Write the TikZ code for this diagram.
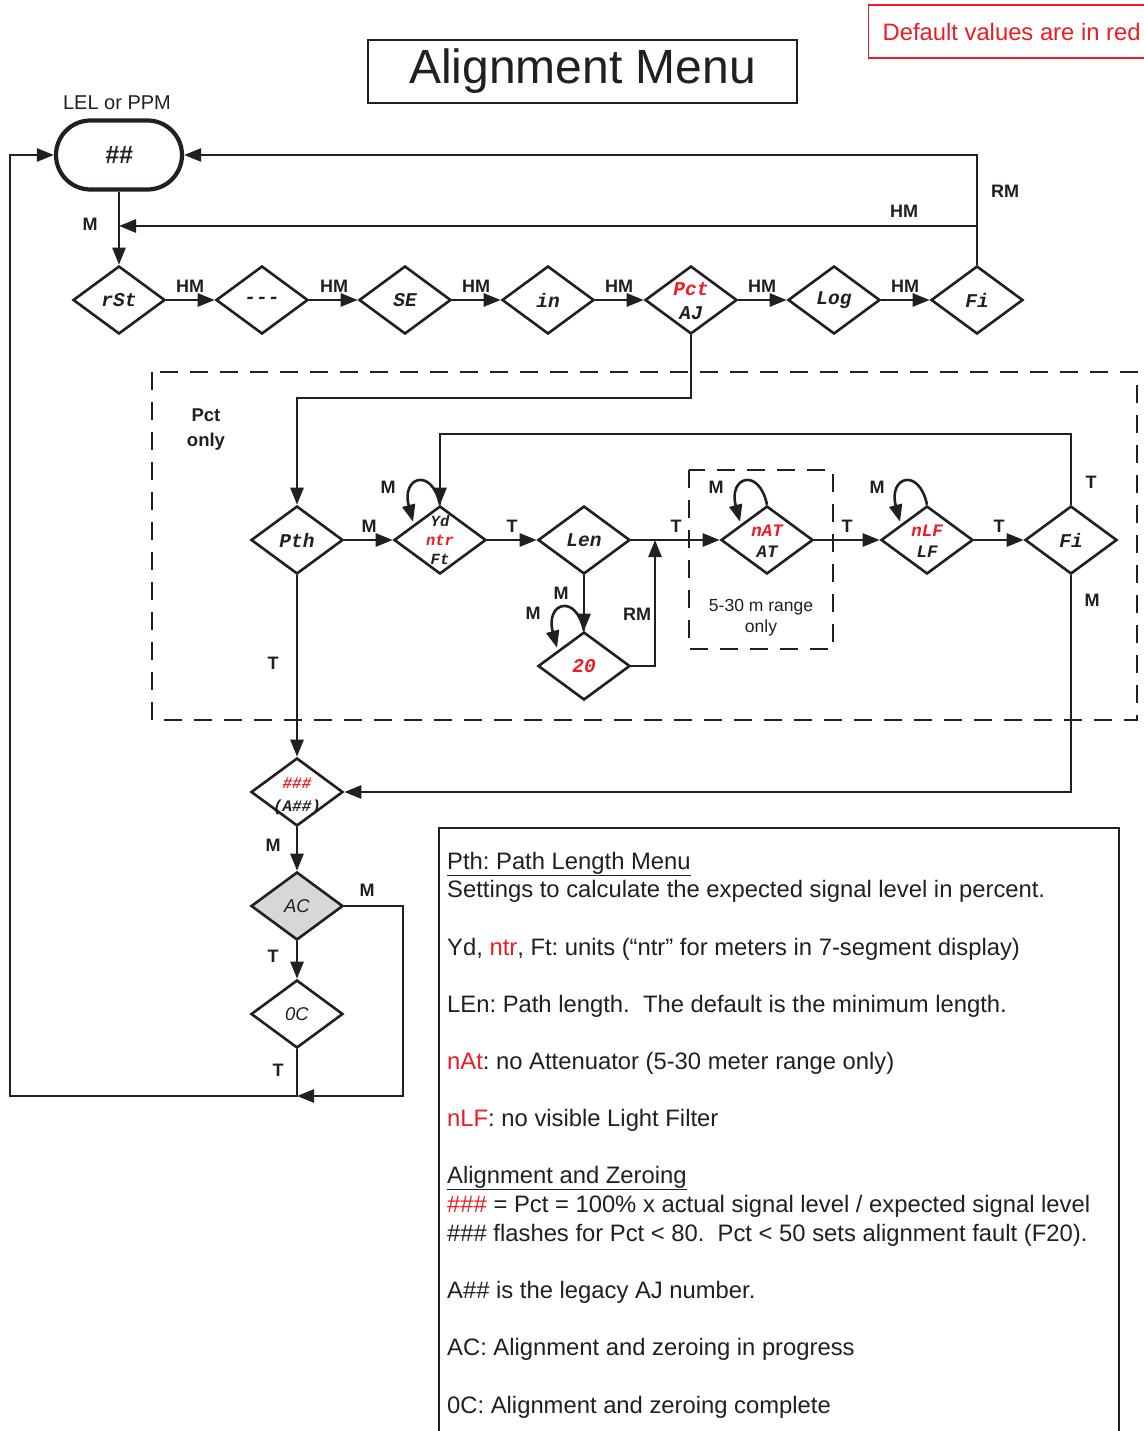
\documentclass[tikz,border=0pt]{standalone}
\usepackage{fontspec}
\setmainfont{Liberation Sans}
\newfontfamily\dmono{Liberation Mono}
\usetikzlibrary{arrows.meta,shapes.geometric,shapes.misc,calc}
\definecolor{dred}{RGB}{237,28,36}
\definecolor{ink}{RGB}{35,31,32}
\definecolor{acgray}{RGB}{214,215,217}
\newcommand\twol[2]{\smash{\raisebox{-7.5pt}{\begin{tabular}{@{}c@{}}#1\\#2\end{tabular}}}}
\newcommand\threel[3]{\smash{\raisebox{-5pt}{\begin{tabular}{@{}c@{}}#1\\#2\\#3\end{tabular}}}}
\frenchspacing
\begin{document}
\begin{tikzpicture}[x=1pt,y=-1pt,
  every node/.style={inner sep=0pt, text=ink},
  conn/.style={draw=ink, line width=2.6pt},
  arr/.style={conn, -{Triangle[length=17pt,width=13pt]}},
  dia/.style={diamond, draw=ink, line width=2.6pt, minimum width=92pt, minimum height=68pt, inner sep=0pt, font=\dmono\bfseries\itshape\fontsize{19.5}{24}\selectfont},
  lab/.style={font=\bfseries\fontsize{18}{20}\selectfont},
  dbox/.style={draw=ink, line width=2.4pt, dash pattern=on 18pt off 12pt},
  body/.style={anchor=base west, font=\fontsize{23.8}{28.6}\selectfont},
]
\useasboundingbox (0,0) rectangle (1143,1431);
\fill[white] (0,0) rectangle (1143,1431);

% title and legend
\node[draw=ink, line width=1.4pt, minimum width=429pt, minimum height=63pt, font=\fontsize{48}{50}\selectfont] (title) at (582.5,71.5) {Alignment Menu};
\node[draw=dred, line width=1.2pt, anchor=west, inner xsep=14pt, minimum height=53pt, text=dred, font=\fontsize{23.8}{26}\selectfont] (def) at (868,31.5) {Default values are in red};

% dashed boxes
\draw[dbox] (152,372) rectangle (1137,720);
\draw[dbox] (689,470) rectangle (833,649);

% top node
\node[font=\fontsize{20}{22}\selectfont] (lel) at (117,103) {LEL or PPM};
\node[draw=ink, line width=4.2pt, rounded rectangle, minimum width=126pt, minimum height=69pt, font=\bfseries\itshape\fontsize{25}{26}\selectfont] (top) at (119,155) {\#\#};

% row 1
\node[dia] (rst) at (119,300) {rSt};
\node[dia] (dsh) at (262,300) {-{}-{}-};
\node[dia] (se) at (405,300) {SE};
\node[dia] (inn) at (548,300) {in};
\node[dia] (aj) at (691,300) {\twol{\textcolor{dred}{Pct}}{AJ}};
\node[dia] (log) at (834,300) {Log};
\node[dia] (fi) at (977,300) {Fi};

% row 2
\node[dia] (pth) at (297,540) {Pth};
\node[dia, font=\dmono\bfseries\itshape\fontsize{15.5}{19}\selectfont] (unit) at (440,540) {\threel{Yd}{\textcolor{dred}{ntr}}{Ft}};
\node[dia] (len) at (584,540) {Len};
\node[dia, font=\dmono\bfseries\itshape\fontsize{17.5}{21}\selectfont] (nat) at (767,540) {\twol{\textcolor{dred}{nAT}}{AT}};
\node[dia, font=\dmono\bfseries\itshape\fontsize{17.5}{21}\selectfont] (nlf) at (927,540) {\twol{\textcolor{dred}{nLF}}{LF}};
\node[dia] (fi2) at (1071,540) {Fi};
\node[dia] (tw) at (584,666) {\textcolor{dred}{20}};

% column
\node[dia, font=\dmono\bfseries\itshape\fontsize{16}{23}\selectfont] (pct) at (297,792) {\twol{\textcolor{dred}{\#\#\#}}{(A\#\#)}};
\node[dia, fill=acgray, font=\itshape\fontsize{18.5}{20}\selectfont] (ac) at (297,906) {AC};
\node[dia, font=\itshape\fontsize{18.5}{20}\selectfont] (oc) at (297,1014) {0C};

% text box
\draw[ink, line width=1.3pt] (439,1431) -- (439,828) -- (1119,828) -- (1119,1431);

% coordinates
\coordinate (hmy) at (0,226);
\coordinate (ajy) at (0,398);
\coordinate (loopy) at (0,434);
\coordinate (rmx) at (655,540);
\coordinate (boty) at (0,1096);
\coordinate (acx) at (403,0);
\coordinate (bl) at (10,1096);

% connectors top
\draw[arr] (top.south) -- (rst.north);
\draw[arr] (fi.north) |- (top.east);
\draw[arr] (fi.north |- hmy) -- (rst.north |- hmy);
\draw[arr] (rst.east) -- (dsh.west);
\draw[arr] (dsh.east) -- (se.west);
\draw[arr] (se.east) -- (inn.west);
\draw[arr] (inn.east) -- (aj.west);
\draw[arr] (aj.east) -- (log.west);
\draw[arr] (log.east) -- (fi.west);
\draw[arr] (aj.south) |- (pth.north |- ajy) -- (pth.north);

% connectors row 2
\draw[arr] (pth.east) -- (unit.west);
\draw[arr] (unit.east) -- (len.west);
\draw[arr] (len.east) -- (nat.west);
\draw[arr] (nat.east) -- (nlf.west);
\draw[arr] (nlf.east) -- (fi2.west);
\draw[arr] (len.south) -- (tw.north);
\draw[arr] (tw.east) -| (rmx);
\draw[arr] (fi2.north) |- (unit.north |- loopy) -- (unit.north);
\draw[arr] (fi2.south) |- (pct.east);

% self loops
\draw[arr] (unit.north) .. controls +(-8,-38) and +(-12,-45) .. ($(unit.north)+(-27,17)$);
\draw[arr] (nat.north) .. controls +(-8,-38) and +(-12,-45) .. ($(nat.north)+(-27,17)$);
\draw[arr] (nlf.north) .. controls +(-8,-38) and +(-12,-45) .. ($(nlf.north)+(-27,17)$);
\draw[arr] (tw.north) .. controls +(-8,-38) and +(-12,-45) .. ($(tw.north)+(-27,17)$);

% column connectors
\draw[arr] (pth.south) -- (pct.north);
\draw[arr] (pct.south) -- (ac.north);
\draw[arr] (ac.south) -- (oc.north);
\draw[arr] (ac.east) -| (acx |- boty) -- (oc.south |- boty);
\draw[arr] (oc.south) -- (oc.south |- boty) -- (bl) |- (top.west);

% labels
\node[lab] (lm0) at (90,224) {M};
\node[lab] (lhm0) at (904,211) {HM};
\node[lab] (lrm0) at (1005,191) {RM};
\node[lab] (lhm1) at (190,286) {HM};
\node[lab] (lhm2) at (334,286) {HM};
\node[lab] (lhm3) at (476,286) {HM};
\node[lab] (lhm4) at (619,286) {HM};
\node[lab] (lhm5) at (762,286) {HM};
\node[lab] (lhm6) at (905,286) {HM};
\node[lab, align=center, font=\bfseries\fontsize{18.5}{25}\selectfont] (pctonly) at (206,430) {Pct\\only};
\node[lab] (lm1) at (369,526) {M};
\node[lab] (lt1) at (512,526) {T};
\node[lab] (lt2) at (676,526) {T};
\node[lab] (lt3) at (847,526) {T};
\node[lab] (lt4) at (999,526) {T};
\node[lab] (lm2) at (388,487) {M};
\node[lab] (lm3) at (716,487) {M};
\node[lab] (lm4) at (877,487) {M};
\node[lab] (lm5) at (533,613) {M};
\node[lab] (lm6) at (561,593) {M};
\node[lab] (lrm1) at (637,614) {RM};
\node[lab] (lt5) at (1091,482) {T};
\node[lab] (lm7) at (1092,600) {M};
\node[lab] (lt6) at (273,663) {T};
\node[lab] (lm8) at (273,845) {M};
\node[lab] (lm9) at (367,890) {M};
\node[lab] (lt7) at (273,956) {T};
\node[lab] (lt8) at (278,1070) {T};
\node[align=center, font=\fontsize{17.5}{21}\selectfont] (rng) at (761,618) {5-30 m range\\only};

% body text
\node[body] (t1) at (447,869) {\underline{Pth: Path Length Menu}};
\node[body] (t2) at (447,897) {Settings to calculate the expected signal level in percent.};
\node[body] (t3) at (447,955) {Yd, \textcolor{dred}{ntr}, Ft: units (“ntr” for meters in 7-segment display)};
\node[body] (t4) at (447,1012) {LEn: Path length.\ \ The default is the minimum length.};
\node[body] (t5) at (447,1069) {\textcolor{dred}{nAt}: no Attenuator (5-30 meter range only)};
\node[body] (t6) at (447,1126) {\textcolor{dred}{nLF}: no visible Light Filter};
\node[body] (t7) at (447,1183) {\underline{Alignment and Zeroing}};
\node[body] (t8) at (447,1212) {\textcolor{dred}{\#\#\#} = Pct = 100\% x actual signal level / expected signal level};
\node[body] (t9) at (447,1241) {\#\#\# flashes for Pct < 80.\ \ Pct < 50 sets alignment fault (F20).};
\node[body] (t10) at (447,1298) {A\#\# is the legacy AJ number.};
\node[body] (t11) at (447,1355) {AC: Alignment and zeroing in progress};
\node[body] (t12) at (447,1413) {0C: Alignment and zeroing complete};
\end{tikzpicture}
\end{document}
